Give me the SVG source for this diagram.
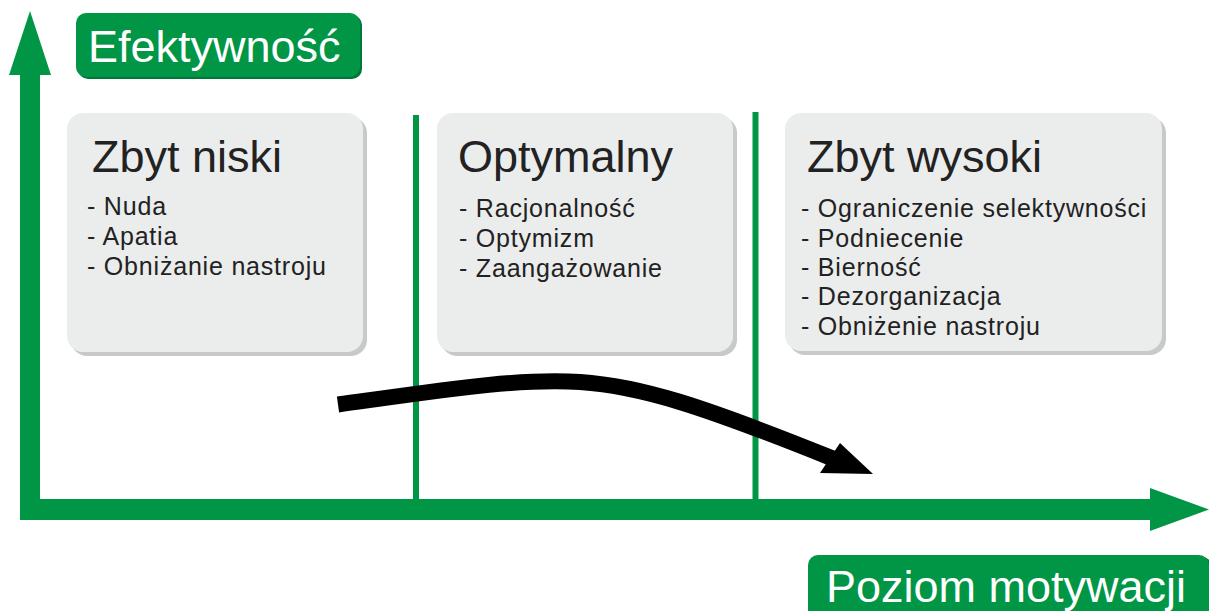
<svg xmlns="http://www.w3.org/2000/svg" width="1209" height="611" viewBox="0 0 1209 611">
  <style>
    .green { fill: #009645; }
    .divider { stroke: #009645; stroke-width: 6; fill: none; }
    .box { fill: #ebecec; }
    .box-shadow { fill: #c8caca; }
    .title { font-family: "Liberation Sans", Arial, sans-serif; font-size: 45px; fill: #222222; }
    .item { font-family: "Liberation Sans", Arial, sans-serif; font-size: 25px; fill: #222222; letter-spacing: 0.8px; }
    .axis-label { font-family: "Liberation Sans", Arial, sans-serif; font-size: 45px; fill: #ffffff; }
    .trend { stroke: #000000; stroke-width: 16; fill: none; stroke-linecap: butt; }
  </style>

  <rect width="1209" height="611" fill="#ffffff"/>

  <!-- zone dividers -->
  <g id="dividers">
    <line class="divider" x1="416" y1="115" x2="416" y2="520"/>
    <line class="divider" x1="755.5" y1="112" x2="755.5" y2="520"/>
  </g>

  <!-- axes -->
  <g id="axes">
    <rect class="green" x="20" y="75" width="20" height="445"/>
    <polygon class="green" points="30,11 51,75 9,75"/>
    <rect class="green" x="20" y="499" width="1131" height="21"/>
    <polygon class="green" points="1150,488 1209,509.5 1150,531"/>
  </g>

  <g id="label-efektywnosc">
    <rect x="78" y="15" width="284" height="64" rx="10" fill="#00763a"/>
    <rect class="green" x="76" y="13" width="284" height="64" rx="10"/>
    <text class="axis-label" x="88" y="62">Efektywność</text>
  </g>

  <g id="label-poziom">
    <rect x="810" y="557" width="402" height="70" rx="10" fill="#00763a"/>
    <rect class="green" x="808" y="555" width="401" height="70" rx="10"/>
    <text class="axis-label" x="826" y="602">Poziom motywacji</text>
  </g>

  <g id="zone-low">
    <rect class="box-shadow" x="71" y="117" width="296" height="239" rx="16"/>
    <rect class="box" x="67" y="113" width="296" height="239" rx="16"/>
    <text class="title" x="92" y="172">Zbyt niski</text>
    <text class="item" x="87" y="215">- Nuda</text>
    <text class="item" x="87" y="245">- Apatia</text>
    <text class="item" x="87" y="275">- Obniżanie nastroju</text>
  </g>

  <g id="zone-optimal">
    <rect class="box-shadow" x="441" y="117" width="296" height="239" rx="16"/>
    <rect class="box" x="437" y="113" width="296" height="239" rx="16"/>
    <text class="title" x="458" y="172">Optymalny</text>
    <text class="item" x="459" y="217">- Racjonalność</text>
    <text class="item" x="459" y="247">- Optymizm</text>
    <text class="item" x="459" y="277">- Zaangażowanie</text>
  </g>

  <g id="zone-high">
    <rect class="box-shadow" x="789" y="117" width="377" height="238" rx="16"/>
    <rect class="box" x="785" y="113" width="377" height="238" rx="16"/>
    <text class="title" x="807" y="172">Zbyt wysoki</text>
    <text class="item" x="801" y="217">- Ograniczenie selektywności</text>
    <text class="item" x="801" y="247">- Podniecenie</text>
    <text class="item" x="801" y="276">- Bierność</text>
    <text class="item" x="801" y="305">- Dezorganizacja</text>
    <text class="item" x="801" y="335">- Obniżenie nastroju</text>
  </g>

  <!-- performance curve -->
  <g id="connectors">
    <path class="trend" d="M338,404.5 C450,389 520,378 580,382 C640,386 700,405 834,459"/>
    <polygon points="840,443 873,474 820,473" fill="#000000"/>
  </g>
</svg>
